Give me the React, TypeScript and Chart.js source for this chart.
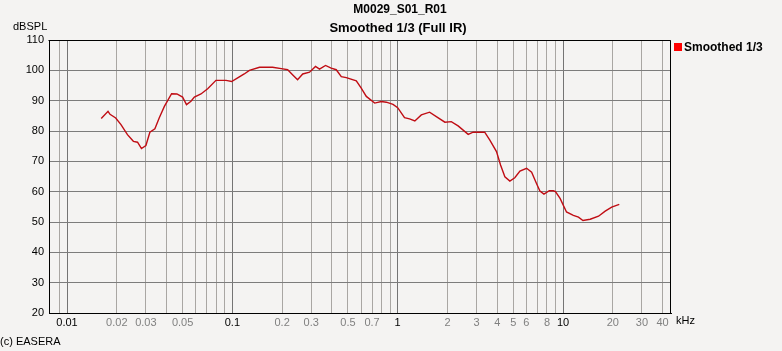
import { useEffect, useRef } from "react";
import { Chart, registerables } from "chart.js";

Chart.register(...registerables);

const chartTitle = "M0029_S01_R01";
const chartSubtitle = "Smoothed 1/3 (Full IR)";
const seriesName = "Smoothed 1/3";
const yUnit = "dBSPL";
const xUnit = "kHz";
const credit = "(c) EASERA";

const freqKHz = [
  0.0161, 0.0177, 0.0182, 0.0197, 0.0212, 0.0232, 0.0252, 0.0267, 0.0282, 0.03,
  0.0317, 0.034, 0.0361, 0.0388, 0.0429, 0.0462, 0.05, 0.0528, 0.0562, 0.0589,
  0.0646, 0.0709, 0.0796, 0.0916, 0.099, 0.1077, 0.118, 0.1268, 0.146, 0.175,
  0.202, 0.216, 0.232, 0.248, 0.2665, 0.293, 0.3185, 0.3366, 0.366, 0.396,
  0.425, 0.456, 0.489, 0.562, 0.602, 0.646, 0.726, 0.796, 0.854, 0.937,
  1.0, 1.1, 1.18, 1.27, 1.39, 1.56, 1.75, 1.93, 2.11, 2.32,
  2.67, 2.86, 3.36, 3.61, 3.96, 4.19, 4.45, 4.77, 5.11, 5.49,
  6.02, 6.46, 6.86, 7.25, 7.67, 8.26, 8.74, 9.0, 9.6, 10.5,
  11.55, 12.4, 13.2, 14.6, 16.4, 18.0, 19.7, 21.9,
];
const splDb = [
  84.1, 86.5, 85.5, 84.3, 82.1, 78.8, 76.6, 76.3, 74.2, 75.2,
  79.6, 80.7, 84.3, 88.1, 92.3, 92.2, 91.2, 88.7, 89.8, 91.2,
  92.2, 93.9, 96.7, 96.7, 96.3, 97.5, 98.8, 100.0, 101.0, 101.0,
  100.5, 100.2, 98.5, 96.9, 98.8, 99.4, 101.3, 100.4, 101.6, 100.7,
  100.2, 97.9, 97.6, 96.5, 94.1, 91.4, 89.2, 89.7, 89.5, 88.8,
  87.7, 84.4, 84.0, 83.3, 85.3, 86.2, 84.4, 82.9, 83.1, 81.7,
  78.9, 79.6, 79.6, 77.0, 73.2, 68.8, 64.9, 63.5, 64.6, 66.8,
  67.7, 66.4, 63.1, 60.2, 59.2, 60.3, 60.3, 60.0, 57.8, 53.3,
  52.2, 51.6, 50.5, 50.9, 51.9, 53.6, 54.9, 55.8,
];

const gridFreqs = [
  0.009, 0.01, 0.02, 0.03, 0.04, 0.05, 0.06, 0.07, 0.08, 0.09,
  0.1, 0.2, 0.3, 0.4, 0.5, 0.6, 0.7, 0.8, 0.9,
  1, 2, 3, 4, 5, 6, 7, 8, 9,
  10, 20, 30, 40,
];
const freqLabels = [
  "0.01", "0.02", "0.03", "0.05", "0.1", "0.2", "0.3", "0.5", "0.7",
  "1", "2", "3", "4", "5", "6", "8", "10", "20", "30", "40",
];
const dbTicks = [20, 30, 40, 50, 60, 70, 80, 90, 100, 110];

const W = 782;
const H = 351;
const FONT = '"Liberation Sans", Arial, sans-serif';
const BG = "#f4f3f2";

const isDecade = (v: number) => {
  const l = Math.log10(v);
  return Math.abs(l - Math.round(l)) < 1e-6;
};
const labelFor = (v: number) => {
  const found = freqLabels.find((s) => Math.abs(parseFloat(s) - v) < v * 1e-6);
  return found ?? "";
};

const decorPlugin = {
  id: "decor",
  beforeDraw(chart: any) {
    const ctx = chart.ctx;
    ctx.save();
    ctx.fillStyle = BG;
    ctx.fillRect(0, 0, chart.width, chart.height);
    ctx.restore();
  },
  afterDraw(chart: any) {
    const ctx = chart.ctx;
    const a = chart.chartArea;
    ctx.save();
    ctx.strokeStyle = "#000";
    ctx.lineWidth = 1;
    ctx.beginPath();
    ctx.moveTo(Math.round(a.left) - 0.5, Math.round(a.top) + 0.5);
    ctx.lineTo(Math.round(a.right) - 0.5, Math.round(a.top) + 0.5);
    ctx.lineTo(Math.round(a.right) - 0.5, Math.round(a.bottom) + 0.5);
    ctx.stroke();

    ctx.fillStyle = "#000";
    ctx.textBaseline = "middle";
    ctx.textAlign = "center";
    ctx.font = `bold 12px ${FONT}`;
    ctx.fillText(chartTitle, 400, 10);
    ctx.font = `bold 13px ${FONT}`;
    ctx.fillText(chartSubtitle, 398, 28);

    ctx.textAlign = "left";
    ctx.font = `11px ${FONT}`;
    ctx.fillText(yUnit, 13, 27);
    ctx.fillText(credit, 0, 342);
    ctx.fillText(xUnit, a.right + 5, 321);

    ctx.fillStyle = "#ff0000";
    ctx.fillRect(a.right + 3, 43, 8, 8);
    ctx.fillStyle = "#000";
    ctx.font = `bold 12px ${FONT}`;
    ctx.fillText(seriesName, a.right + 13, 47.5);
    ctx.restore();
  },
};

export default function App() {
  const ref = useRef<HTMLCanvasElement | null>(null);
  useEffect(() => {
    if (!ref.current) return;
    const chart = new Chart(ref.current, {
      type: "line",
      data: {
        datasets: [
          {
            label: seriesName,
            data: freqKHz.map((f, i) => ({ x: f, y: splDb[i] })),
            borderColor: "#c00d14",
            borderWidth: 1.4,
            pointRadius: 0,
            tension: 0,
            fill: false,
          },
        ],
      },
      options: {
        animation: false,
        responsive: false,
        devicePixelRatio: 1,
        layout: { padding: { left: 0, top: 40, right: W - 671, bottom: 0 } },
        plugins: {
          legend: { display: false },
          tooltip: { enabled: false },
          title: { display: false },
        },
        scales: {
          x: {
            type: "logarithmic",
            min: 0.00778,
            max: 45,
            afterBuildTicks: (s: any) => {
              s.ticks = gridFreqs.map((v) => ({ value: v }));
            },
            afterFit: (s: any) => {
              s.height = H - 313;
            },
            grid: {
              drawTicks: false,
              lineWidth: 1,
              color: (c: any) =>
                c.tick && isDecade(c.tick.value) ? "#747474" : "#a9a6a3",
            },
            border: { color: "#000", width: 1 },
            ticks: {
              autoSkip: false,
              maxRotation: 0,
              minRotation: 0,
              padding: 3,
              font: { family: FONT, size: 11 },
              color: (c: any) =>
                c.tick && isDecade(c.tick.value) ? "#000" : "#808080",
              callback: (v: any) => labelFor(Number(v)),
            },
          },
          y: {
            type: "linear",
            min: 20,
            max: 110,
            afterBuildTicks: (s: any) => {
              s.ticks = dbTicks.map((v) => ({ value: v }));
            },
            afterFit: (s: any) => {
              s.width = 49;
            },
            grid: { drawTicks: false, lineWidth: 1, color: "#7c7c7c" },
            border: { color: "#000", width: 1 },
            ticks: {
              padding: 5,
              font: { family: FONT, size: 11 },
              color: "#000",
            },
          },
        },
      },
      plugins: [decorPlugin],
    } as any);
    return () => chart.destroy();
  }, []);
  return (
    <div style={{ position: "fixed", left: 0, top: 0, width: W, height: H, background: BG }}>
      <canvas ref={ref} width={W} height={H} style={{ display: "block", width: W, height: H }} />
    </div>
  );
}
